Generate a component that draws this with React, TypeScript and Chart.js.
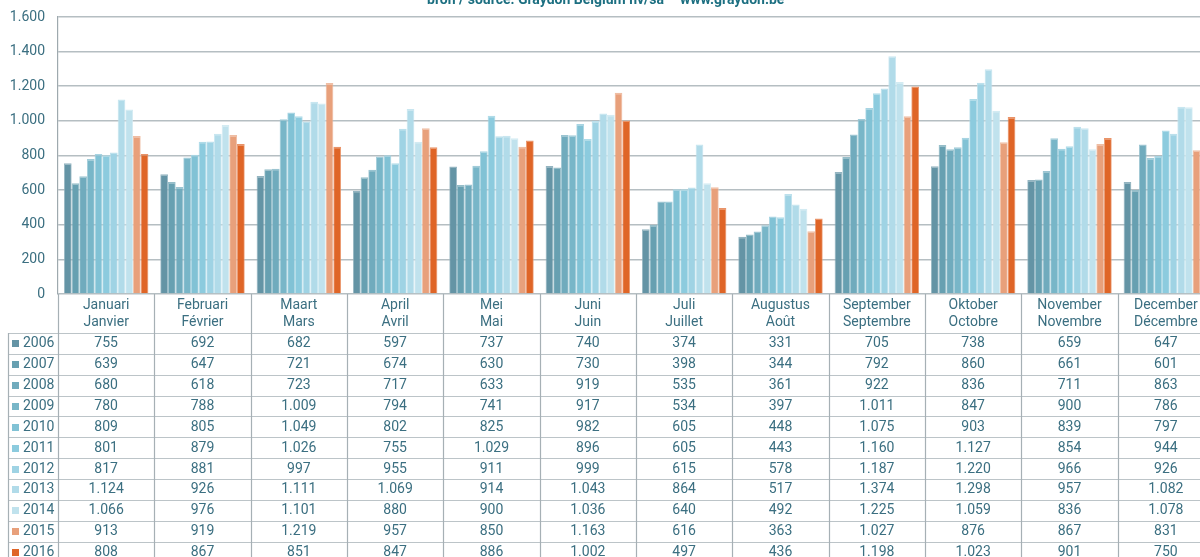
import React, { useEffect, useRef } from "react";
import { Chart, registerables } from "chart.js";

Chart.register(...registerables);

const monthsNl = ["Januari", "Februari", "Maart", "April", "Mei", "Juni", "Juli", "Augustus", "September", "Oktober", "November", "December"];
const monthsFr = ["Janvier", "Février", "Mars", "Avril", "Mai", "Juin", "Juillet", "Août", "Septembre", "Octobre", "Novembre", "Décembre"];
const years = ["2006", "2007", "2008", "2009", "2010", "2011", "2012", "2013", "2014", "2015", "2016"];

const v2006 = [755, 692, 682, 597, 737, 740, 374, 331, 705, 738, 659, 647];
const v2007 = [639, 647, 721, 674, 630, 730, 398, 344, 792, 860, 661, 601];
const v2008 = [680, 618, 723, 717, 633, 919, 535, 361, 922, 836, 711, 863];
const v2009 = [780, 788, 1009, 794, 741, 917, 534, 397, 1011, 847, 900, 786];
const v2010 = [809, 805, 1049, 802, 825, 982, 605, 448, 1075, 903, 839, 797];
const v2011 = [801, 879, 1026, 755, 1029, 896, 605, 443, 1160, 1127, 854, 944];
const v2012 = [817, 881, 997, 955, 911, 999, 615, 578, 1187, 1220, 966, 926];
const v2013 = [1124, 926, 1111, 1069, 914, 1043, 864, 517, 1374, 1298, 957, 1082];
const v2014 = [1066, 976, 1101, 880, 900, 1036, 640, 492, 1225, 1059, 836, 1078];
const v2015 = [913, 919, 1219, 957, 850, 1163, 616, 363, 1027, 876, 867, 831];
const v2016 = [808, 867, 851, 847, 886, 1002, 497, 436, 1198, 1023, 901, 750];

const seriesValues = [v2006, v2007, v2008, v2009, v2010, v2011, v2012, v2013, v2014, v2015, v2016];
const seriesColors = ["#6494a5", "#67a0b1", "#70abbd", "#78b6c8", "#81c2d5", "#8ccbde", "#9fd3e4", "#b1dbe9", "#c0e2ed", "#e8a07b", "#df6527"];

const yTicks = [0, 200, 400, 600, 800, 1000, 1200, 1400, 1600];
const titleLeft = "bron / source: Graydon Belgium nv/sa";
const titleRight = "www.graydon.be";

const TEXT = "#3b6f81";
const FONT = "Roboto, 'Noto Sans', sans-serif";

function fmt(n: number): string {
  if (n >= 1000) return Math.floor(n / 1000) + "." + String(n % 1000).padStart(3, "0");
  return String(n);
}

function lighten(hex: string, t: number): string {
  const r = parseInt(hex.slice(1, 3), 16);
  const g = parseInt(hex.slice(3, 5), 16);
  const b = parseInt(hex.slice(5, 7), 16);
  const m = (c: number) => Math.round(c + (255 - c) * t);
  return `rgb(${m(r)},${m(g)},${m(b)})`;
}

const TOP_OFFSET = 20;

const tablePlugin = {
  id: "dataTable",
  afterDraw(chart: any) {
    const ctx = chart.ctx;
    const area = chart.chartArea;
    const xs = chart.scales.x;
    const n = monthsNl.length;
    const catW = (area.right - area.left) / n;
    const headBottom = area.bottom + 39;
    const rowH = 20.85;
    const bottom = chart.height;
    const tableLeft = 8;
    ctx.save();

    // title
    ctx.fillStyle = "#1c6f81";
    ctx.font = "bold 14px " + FONT;
    ctx.textAlign = "left";
    ctx.textBaseline = "alphabetic";
    ctx.fillText(titleLeft, 427, TOP_OFFSET + 3.5);
    ctx.fillText(titleRight, 680, TOP_OFFSET + 3.5);

    // horizontal lines
    ctx.strokeStyle = "#bcc4c8";
    ctx.lineWidth = 1.2;
    for (let i = 0; i <= years.length; i++) {
      const y = Math.round(headBottom + i * rowH) + 0.5;
      ctx.beginPath();
      ctx.moveTo(tableLeft, y);
      ctx.lineTo(area.right, y);
      ctx.stroke();
    }
    // vertical lines
    ctx.strokeStyle = "#a6b0b5";
    for (let k = 0; k <= n; k++) {
      const x = Math.round(area.left + k * catW) + 0.5;
      ctx.beginPath();
      ctx.moveTo(x, area.bottom);
      ctx.lineTo(x, bottom);
      ctx.stroke();
    }
    ctx.beginPath();
    ctx.moveTo(tableLeft + 0.5, headBottom);
    ctx.lineTo(tableLeft + 0.5, bottom);
    ctx.stroke();

    // rows
    ctx.font = "14px " + FONT;
    ctx.textBaseline = "middle";
    for (let r = 0; r < years.length; r++) {
      const yc = headBottom + r * rowH + rowH / 2 + 0.5;
      ctx.fillStyle = seriesColors[r];
      ctx.fillRect(12, Math.round(yc - 3.5), 7, 7);
      ctx.fillStyle = TEXT;
      ctx.textAlign = "left";
      ctx.fillText(years[r], 23, yc);
      ctx.textAlign = "center";
      const vals = seriesValues[r];
      for (let c = 0; c < n; c++) {
        const xc = xs.getPixelForValue(c);
        ctx.fillText(fmt(vals[c]), xc, yc);
      }
    }
    ctx.restore();
  },
};

export default function App() {
  const ref = useRef<HTMLCanvasElement>(null);
  useEffect(() => {
    if (!ref.current) return;
    const chart = new Chart(ref.current, {
      type: "bar",
      data: {
        labels: monthsNl.map((m, i) => [m, monthsFr[i]]),
        datasets: years.map((y, i) => ({
          label: y,
          data: seriesValues[i],
          backgroundColor: seriesColors[i],
          borderColor: lighten(seriesColors[i], 0.3),
          borderWidth: { top: 1.5, left: 0.8, right: 0.8, bottom: 0 },
          borderSkipped: "bottom",
          categoryPercentage: 0.876,
          barPercentage: 1.0,
        })),
      },
      options: {
        responsive: false,
        animation: false,
        events: [],
        layout: { padding: { left: 0, right: 8, top: TOP_OFFSET + 17, bottom: 0 } },
        plugins: {
          legend: { display: false },
          title: { display: false },
          tooltip: { enabled: false },
        },
        scales: {
          x: {
            offset: true,
            grid: { display: false, drawTicks: false, tickLength: 0 },
            border: { display: false },
            ticks: {
              color: TEXT,
              font: { family: FONT, size: 14, lineHeight: 1.2 },
              padding: 3,
              maxRotation: 0,
              autoSkip: false,
            },
            afterFit: (s: any) => {
              s.height = 600 - (TOP_OFFSET + 294);
            },
          },
          y: {
            min: 0,
            max: 1600,
            afterBuildTicks: (s: any) => {
              s.ticks = yTicks.map((v) => ({ value: v }));
            },
            grid: { color: "#b5bec2", lineWidth: 1.6, drawTicks: false },
            border: { display: true, color: "#9ea9ae", width: 1.2 },
            ticks: {
              color: TEXT,
              font: { family: FONT, size: 14 },
              padding: 13,
              callback: (v: any) => fmt(Number(v)),
            },
            afterFit: (s: any) => {
              s.width = 58;
            },
          },
        },
      },
      plugins: [tablePlugin],
    });
    return () => chart.destroy();
  }, []);

  return (
    <div style={{ position: "fixed", left: 0, top: 0, width: 1200, height: 557, overflow: "hidden", background: "#fff" }}>
      <canvas
        ref={ref}
        width={1222}
        height={600}
        style={{ position: "absolute", left: 0, top: -TOP_OFFSET, width: 1222, height: 600 }}
      />
    </div>
  );
}
